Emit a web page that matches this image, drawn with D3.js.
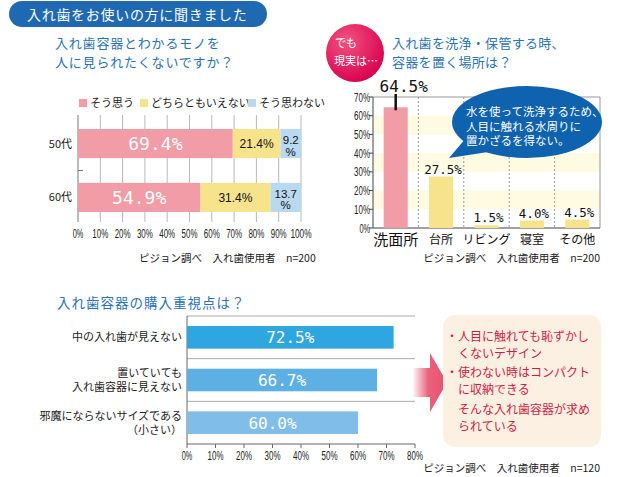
<!DOCTYPE html>
<html><head><meta charset="utf-8">
<script src="https://cdn.jsdelivr.net/npm/d3@7"></script>
<style>
body{margin:0;background:#fff;}
svg{display:block;}
text{font-family:"Noto Sans CJK JP",sans-serif;}
.mono{font-family:"DejaVu Sans Mono",monospace;}
.tk{font-family:"Liberation Sans",Arial,sans-serif;font-size:12px;fill:#222;}
.lat{font-family:"Liberation Sans",Arial,sans-serif;}
</style></head><body>
<svg id="c" width="640" height="477"></svg>
<script>
// ---------- data ----------
const bannerTitle = "入れ歯をお使いの方に聞きました";
const q1Title = ["入れ歯容器とわかるモノを", "人に見られたくないですか？"];
const ageGroups = ["50代", "60代"];
const answerLabels = ["そう思う", "どちらともいえない", "そう思わない"];
const agreeValues = [69.4, 54.9];
const neutralValues = [21.4, 31.4];
const disagreeValues = [9.2, 13.7];
const q1Ticks = [0, 10, 20, 30, 40, 50, 60, 70, 80, 90, 100];
const q1Source = "ピジョン調べ　入れ歯使用者　n=200";

const q2Title = ["入れ歯を洗浄・保管する時、", "容器を置く場所は？"];
const places = ["洗面所", "台所", "リビング", "寝室", "その他"];
const placeValues = [64.5, 27.5, 1.5, 4.0, 4.5];
const q2Ticks = [0, 10, 20, 30, 40, 50, 60, 70];
const q2Source = "ピジョン調べ　入れ歯使用者　n=200";
const badgeText = ["でも", "現実は…"];
const bubbleText = ["水を使って洗浄するため、", "人目に触れる水周りに", "置かざるを得ない。"];

const q3Title = "入れ歯容器の購入重視点は？";
const criteria = [["中の入れ歯が見えない"], ["置いていても", "入れ歯容器に見えない"], ["邪魔にならないサイズである", "（小さい）"]];
const criteriaValues = [72.5, 66.7, 60.0];
const q3Ticks = [0, 10, 20, 30, 40, 50, 60, 70, 80];
const q3Source = "ピジョン調べ　入れ歯使用者　n=120";
const noteLines = [
  {b: true, t: "人目に触れても恥ずかし"}, {b: false, t: "くないデザイン"},
  {b: true, t: "使わない時はコンパクト"}, {b: false, t: "に収納できる"},
  {b: false, t: "そんな入れ歯容器が求め"}, {b: false, t: "られている"}
];

// ---------- colors ----------
const C = {
  blue: "#1f69b3", title: "#2a72b8", pink: "#f19ca6", yellow: "#f6e38c", lblue: "#b9d9f1",
  band: "#fffbe2", bubble: "#0e62ae", note: "#fcf0e2", noteText: "#cf1d45",
  q3: ["#2ea7e0", "#5cb0e4", "#80bee9"]
};
const fmt = v => v.toFixed(1) + "%";
const pct = d => d + "%";
const tkLen = d => pct(d).length * 5.3;

const svg = d3.select("#c");
const defs = svg.append("defs");

// ---------- banner ----------
svg.append("rect").attr("x", 9).attr("y", 1).attr("width", 258).attr("height", 26).attr("rx", 13).attr("fill", C.blue);
svg.append("text").attr("x", 27).attr("y", 19.5).attr("fill", "#fff").attr("font-size", 14).attr("letter-spacing", 0.7).text(bannerTitle);

// ---------- Q1 ----------
q1Title.forEach((t, i) => svg.append("text").attr("x", 55).attr("y", 48 + i * 19).attr("fill", C.title)
  .attr("font-size", 13).attr("letter-spacing", 0.8).text(t));

const legendX = [79, 140, 248];
const legCol = [C.pink, C.yellow, C.lblue];
answerLabels.forEach((l, i) => {
  svg.append("rect").attr("x", legendX[i]).attr("y", 99).attr("width", 8).attr("height", 8).attr("fill", legCol[i]);
  svg.append("text").attr("x", legendX[i] + 11).attr("y", 107).attr("font-size", 11).attr("fill", "#222").text(l);
});

const x1 = d3.scaleLinear().domain([0, 100]).range([78, 301]);
const y1 = d3.scaleBand().domain(ageGroups).range([115, 226]).paddingInner(0.46).paddingOuter(0.26);
const g1Top = 115, g1Bot = 222;
const g1 = svg.append("g");
g1.selectAll("line.grid").data(q1Ticks.slice(1)).join("line")
  .attr("x1", d => x1(d)).attr("x2", d => x1(d)).attr("y1", g1Top).attr("y2", g1Bot)
  .attr("stroke", "#b8b8b8").attr("stroke-width", 1);
g1.append("line").attr("x1", x1(0)).attr("x2", x1(0)).attr("y1", g1Top).attr("y2", g1Bot).attr("stroke", "#777");
const midY = (y1(ageGroups[0]) + y1.bandwidth() + y1(ageGroups[1])) / 2;
g1.append("line").attr("x1", x1(0)).attr("x2", x1(0) + 5).attr("y1", midY).attr("y2", midY).attr("stroke", "#777");

const q1Rows = ageGroups.map((g, i) => ({age: g, agree: agreeValues[i], neutral: neutralValues[i], disagree: disagreeValues[i]}));
const keys = ["agree", "neutral", "disagree"];
const stacked = d3.stack().keys(keys)(q1Rows);
stacked.forEach((s, k) => {
  g1.selectAll(null).data(s).join("rect")
    .attr("x", d => x1(d[0])).attr("width", d => x1(d[1]) - x1(d[0]))
    .attr("y", d => y1(d.data.age)).attr("height", y1.bandwidth()).attr("fill", legCol[k]);
});
stacked.forEach((s, k) => {
  s.forEach(d => {
    const cx = (x1(d[0]) + x1(d[1])) / 2, cy = y1(d.data.age) + y1.bandwidth() / 2;
    const v = d[1] - d[0];
    if (k === 0) {
      g1.append("text").attr("class", "mono").attr("x", cx).attr("y", cy + 6.5).attr("text-anchor", "middle")
        .attr("font-size", 18).attr("fill", "#fff").text(fmt(v));
    } else if (k === 1) {
      g1.append("text").attr("class", "lat").attr("x", cx).attr("y", cy + 4.5).attr("text-anchor", "middle")
        .attr("font-size", 12).attr("fill", "#111").text(fmt(v));
    } else {
      g1.append("text").attr("class", "lat").attr("x", cx).attr("y", cy + 0.5).attr("text-anchor", "middle")
        .attr("font-size", 11.5).attr("fill", "#111").text(v.toFixed(1));
      g1.append("text").attr("class", "lat").attr("x", cx).attr("y", cy + 12).attr("text-anchor", "middle")
        .attr("font-size", 11.5).attr("fill", "#111").text("%");
    }
  });
});
ageGroups.forEach(g => svg.append("text").attr("x", 72).attr("y", y1(g) + y1.bandwidth() / 2 + 4).attr("text-anchor", "end")
  .attr("font-size", 11).attr("fill", "#222").text(g));
g1.selectAll("text.t").data(q1Ticks).join("text").attr("class", "tk")
  .attr("x", d => x1(d)).attr("y", 237.5).attr("text-anchor", "middle")
  .attr("textLength", tkLen).attr("lengthAdjust", "spacingAndGlyphs").text(pct);
svg.append("text").attr("x", 139).attr("y", 262).attr("font-size", 10.5).attr("fill", "#222").text(q1Source);

// ---------- Q2 ----------
const grad = defs.append("radialGradient").attr("id", "badge").attr("cx", "35%").attr("cy", "30%").attr("r", "75%");
grad.append("stop").attr("offset", "0%").attr("stop-color", "#f2527f");
grad.append("stop").attr("offset", "100%").attr("stop-color", "#d8004f");
svg.append("circle").attr("cx", 355).attr("cy", 53).attr("r", 29).attr("fill", "url(#badge)");
svg.append("text").attr("x", 335).attr("y", 47).attr("fill", "#fff").attr("font-size", 11).text(badgeText[0]);
svg.append("text").attr("x", 334).attr("y", 65).attr("fill", "#fff").attr("font-size", 11).text(badgeText[1]);
q2Title.forEach((t, i) => svg.append("text").attr("x", 392).attr("y", 48 + i * 19).attr("fill", C.title)
  .attr("font-size", 13).attr("letter-spacing", 0.3).text(t));

const x2 = d3.scaleBand().domain(places).range([373, 600]).paddingInner(0.47).paddingOuter(0.235);
const y2 = d3.scaleLinear().domain([0, 70]).range([228, 97]);
const g2 = svg.append("g");
g2.selectAll("rect.band").data(q2Ticks.filter((t, i) => i % 2 === 1 && t < 70)).join("rect")
  .attr("x", 373).attr("width", 227).attr("y", d => y2(d + 10)).attr("height", d => y2(d) - y2(d + 10)).attr("fill", C.band);
const step2 = x2.step(), gap2 = step2 - x2.bandwidth();
g2.selectAll("line.sep").data(places.slice(1)).join("line")
  .attr("x1", d => x2(d) - gap2 / 2).attr("x2", d => x2(d) - gap2 / 2).attr("y1", y2(70)).attr("y2", y2(0))
  .attr("stroke", "#999").attr("stroke-dasharray", "2,2");
g2.append("line").attr("x1", 373).attr("x2", 600).attr("y1", y2(70)).attr("y2", y2(70)).attr("stroke", "#999");
g2.append("line").attr("x1", 600).attr("x2", 600).attr("y1", y2(70)).attr("y2", y2(0)).attr("stroke", "#999");
g2.append("line").attr("x1", 373).attr("x2", 373).attr("y1", y2(70)).attr("y2", y2(0)).attr("stroke", "#444");
g2.append("line").attr("x1", 373).attr("x2", 600).attr("y1", y2(0)).attr("y2", y2(0)).attr("stroke", "#444");
g2.selectAll("line.tick").data(q2Ticks).join("line")
  .attr("x1", 369).attr("x2", 373).attr("y1", d => y2(d)).attr("y2", d => y2(d)).attr("stroke", "#444");
g2.selectAll("text.yt").data(q2Ticks).join("text").attr("class", "tk")
  .attr("x", 370).attr("y", d => y2(d) + 4.5).attr("text-anchor", "end")
  .attr("textLength", tkLen).attr("lengthAdjust", "spacingAndGlyphs").text(pct);
g2.selectAll("rect.bar").data(places).join("rect")
  .attr("x", d => x2(d)).attr("width", x2.bandwidth())
  .attr("y", (d, i) => y2(placeValues[i])).attr("height", (d, i) => y2(0) - y2(placeValues[i]))
  .attr("fill", (d, i) => i === 0 ? C.pink : C.yellow);
places.forEach((p, i) => {
  const cx = x2(p) + x2.bandwidth() / 2;
  if (i === 0) {
    g2.append("line").attr("x1", cx).attr("x2", cx).attr("y1", 94).attr("y2", y2(placeValues[i]) + 3)
      .attr("stroke", "#111").attr("stroke-width", 2.5);
    g2.append("text").attr("class", "mono").attr("x", cx + 8).attr("y", 92).attr("text-anchor", "middle")
      .attr("font-size", 16).attr("fill", "#111").text(fmt(placeValues[i]));
    g2.append("text").attr("x", cx).attr("y", 245).attr("text-anchor", "middle").attr("font-size", 15).attr("fill", "#111").text(p);
  } else {
    g2.append("text").attr("class", "mono").attr("x", cx + 2).attr("y", y2(placeValues[i]) - 3).attr("text-anchor", "middle")
      .attr("font-size", 12.5).attr("fill", "#111").text(fmt(placeValues[i]));
    g2.append("text").attr("x", cx).attr("y", 244).attr("text-anchor", "middle").attr("font-size", 12).attr("fill", "#111").text(p);
  }
});
svg.append("text").attr("x", 600).attr("y", 262).attr("text-anchor", "end").attr("font-size", 10.5).attr("fill", "#222").text(q2Source);

// speech bubble
svg.append("path").attr("d", "M466,138 L449,158 L488,152 Z").attr("fill", C.bubble);
svg.append("ellipse").attr("cx", 527).attr("cy", 122).attr("rx", 75).attr("ry", 36).attr("fill", C.bubble);
bubbleText.forEach((t, i) => svg.append("text").attr("x", 466).attr("y", 116 + i * 14.5).attr("fill", "#fff")
  .attr("font-size", 11.5).text(t));

// ---------- Q3 ----------
svg.append("text").attr("x", 57).attr("y", 308).attr("fill", C.title).attr("font-size", 13.5).attr("letter-spacing", 1).text(q3Title);
const x3 = d3.scaleLinear().domain([0, 80]).range([187, 415]);
const idx = criteria.map((c, i) => i);
const y3 = d3.scaleBand().domain(idx).range([316, 444]).paddingInner(0.47).paddingOuter(0.235);
const g3 = svg.append("g");
const gap3 = y3.step() - y3.bandwidth();
g3.selectAll("line.sep").data(idx).join("line")
  .attr("x1", 187).attr("x2", 415).attr("y1", d => y3(d) - gap3 / 2).attr("y2", d => y3(d) - gap3 / 2).attr("stroke", "#aaa");
g3.append("line").attr("x1", 187).attr("x2", 415).attr("y1", 444).attr("y2", 444).attr("stroke", "#666");
g3.append("line").attr("x1", 187).attr("x2", 187).attr("y1", 316).attr("y2", 444).attr("stroke", "#666");
g3.selectAll("line.tick").data(q3Ticks).join("line")
  .attr("x1", d => x3(d)).attr("x2", d => x3(d)).attr("y1", 444).attr("y2", 448).attr("stroke", "#666");
g3.selectAll("text.xt").data(q3Ticks).join("text").attr("class", "tk")
  .attr("x", d => x3(d)).attr("y", 459.5).attr("text-anchor", "middle")
  .attr("textLength", tkLen).attr("lengthAdjust", "spacingAndGlyphs").text(pct);
g3.selectAll("rect.bar").data(idx).join("rect")
  .attr("x", x3(0)).attr("width", d => x3(criteriaValues[d]) - x3(0))
  .attr("y", d => y3(d)).attr("height", y3.bandwidth()).attr("fill", d => C.q3[d]);
idx.forEach(d => {
  const cy = y3(d) + y3.bandwidth() / 2;
  g3.append("text").attr("class", "mono").attr("x", (x3(0) + x3(criteriaValues[d])) / 2).attr("y", cy + 6)
    .attr("text-anchor", "middle").attr("font-size", 16).attr("fill", "#fff").text(fmt(criteriaValues[d]));
  const lines = criteria[d];
  lines.forEach((t, j) => {
    const off = lines.length === 1 ? 0 : (j === 0 ? -7 : 7);
    g3.append("text").attr("x", 182).attr("y", cy + off + 4).attr("text-anchor", "end")
      .attr("font-size", 11).attr("fill", "#222").text(t);
  });
});
svg.append("text").attr("x", 600).attr("y", 472).attr("text-anchor", "end").attr("font-size", 10.5).attr("fill", "#222").text(q3Source);

// arrow
const ag = defs.append("linearGradient").attr("id", "arrow").attr("x1", "0%").attr("x2", "100%");
ag.append("stop").attr("offset", "0%").attr("stop-color", "#e8506e").attr("stop-opacity", 0.05);
ag.append("stop").attr("offset", "45%").attr("stop-color", "#e8506e").attr("stop-opacity", 0.9);
ag.append("stop").attr("offset", "100%").attr("stop-color", "#e8506e").attr("stop-opacity", 1);
svg.append("path").attr("d", "M413,368 L430,368 L430,353 L447,382.5 L430,412 L430,397 L413,397 Z").attr("fill", "url(#arrow)");

// note box
svg.append("rect").attr("x", 443).attr("y", 315).attr("width", 158).attr("height", 132).attr("rx", 12).attr("fill", C.note);
const noteY = [341, 358, 377, 394, 414, 431];
noteLines.forEach((n, i) => {
  if (n.b) svg.append("text").attr("x", 452).attr("y", noteY[i]).attr("text-anchor", "middle").attr("font-size", 12).attr("fill", C.noteText).text("・");
  svg.append("text").attr("x", 458).attr("y", noteY[i]).attr("font-size", 12).attr("fill", C.noteText).text(n.t);
});
</script>
</body></html>
